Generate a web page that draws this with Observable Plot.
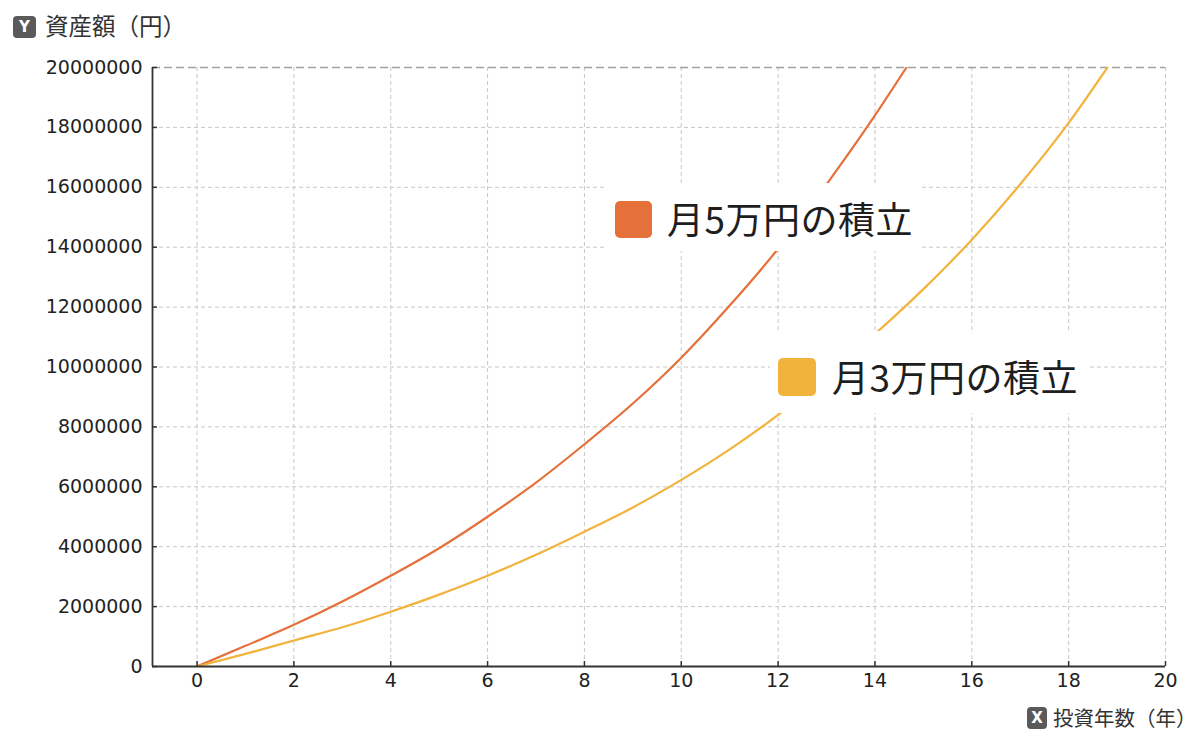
<!DOCTYPE html>
<html>
<head>
<meta charset="utf-8">
<script src="https://cdn.jsdelivr.net/npm/d3@7"></script>
<script src="https://cdn.jsdelivr.net/npm/@observablehq/plot@0.6"></script>
<style>
  body { margin: 0; background: #fff; }
  #wrap { position: relative; width: 1200px; height: 741px; overflow: hidden; background: #fff; }
  #wrap svg { position: absolute; left: 0; top: 0; }
  .badge { position: absolute; background: #5a5a5a; color: #fff; border-radius: 4px;
           font: bold 15px "DejaVu Sans", sans-serif; display: flex; align-items: center; justify-content: center; }
  .axt { position: absolute; color: #333; white-space: nowrap; line-height: 1;
         font-family: "Noto Sans CJK JP", sans-serif; }
  .lg { position: absolute; background: #fff; }
  .sw { position: absolute; border-radius: 5px; }
  .lt { position: absolute; font-family: "Noto Sans CJK JP", sans-serif; font-size: 37px; line-height: 1;
        color: #1e1e1e; white-space: nowrap; letter-spacing: 0.5px; }
</style>
</head>
<body>
<div id="wrap"></div>
<script>
// ---- data ----
const seriesNames = ["月5万円の積立", "月3万円の積立"];
const seriesColors = ["#E5703A", "#F2B33D"];

const years5  = [0, 1, 2, 3, 4, 5, 6, 7, 8, 9, 10, 11, 12, 13, 14, 14.65];
const values5 = [0, 690000, 1390000, 2170000, 3030000, 3950000, 5000000, 6140000, 7420000, 8780000,
                 10310000, 12050000, 13950000, 16100000, 18400000, 20000000];

const years3  = [0, 1, 2, 3, 4, 5, 6, 7, 8, 9, 10, 11, 12, 13, 14, 15, 16, 17, 18, 18.8];
const values3 = [0, 420000, 870000, 1310000, 1830000, 2400000, 3030000, 3730000, 4500000, 5310000,
                 6230000, 7250000, 8400000, 9700000, 11100000, 12600000, 14250000, 16100000, 18150000, 20000000];

const xTicks = [0, 2, 4, 6, 8, 10, 12, 14, 16, 18, 20];
const yTicks = [0, 2000000, 4000000, 6000000, 8000000, 10000000, 12000000, 14000000, 16000000, 18000000, 20000000];
const xDomain = [-0.92, 20];
const yDomain = [0, 20000000];

const yTitle = "資産額（円）";
const xTitle = "投資年数（年）";

// ---- table for the library ----
const rows = [
  ...years5.map((x, i) => ({series: seriesNames[0], year: x, value: values5[i]})),
  ...years3.map((x, i) => ({series: seriesNames[1], year: x, value: values3[i]}))
];

const W = 1200, H = 741, ML = 152, MR = 35, MT = 67, MB = 75, TICK = 5;
const grid = {stroke: "#c8c8c8", strokeOpacity: 1, strokeDasharray: "4,3", strokeWidth: 1};

const chart = Plot.plot({
  width: W,
  height: H,
  marginLeft: ML,
  marginRight: MR,
  marginTop: MT,
  marginBottom: MB,
  style: {fontFamily: "DejaVu Sans, sans-serif", fontSize: "19px", color: "#222", background: "transparent", overflow: "visible"},
  x: {domain: xDomain},
  y: {domain: yDomain},
  color: {domain: seriesNames, range: seriesColors},
  marks: [
    Plot.gridX(xTicks, grid),
    Plot.gridY(yTicks.slice(0, -1), grid),
    Plot.ruleY([yDomain[1]], {stroke: "#a0a0a0", strokeDasharray: "8,4", strokeWidth: 1.5}),
    Plot.line(rows, {x: "year", y: "value", z: "series", stroke: "series", curve: "monotone-x", strokeWidth: 2.2, clip: true}),
    // inward tick marks
    Plot.tickX(xTicks, {x: d => d, stroke: "#333", strokeWidth: 1.5, insetTop: H - MT - MB - TICK}),
    Plot.tickY(yTicks, {y: d => d, stroke: "#333", strokeWidth: 1.5, insetRight: W - ML - MR - TICK}),
    Plot.axisX(xTicks, {tickSize: 0, tickPadding: 7, tickFormat: d => String(d), label: null}),
    Plot.axisY(yTicks, {tickSize: 0, tickPadding: 10, tickFormat: d => String(d), label: null}),
    Plot.ruleX([xDomain[0]], {stroke: "#333", strokeWidth: 1.8}),
    Plot.ruleY([yDomain[0]], {stroke: "#333", strokeWidth: 1.8})
  ]
});

const wrap = document.getElementById("wrap");
wrap.appendChild(chart);

// ---- axis titles with badges ----
function addBadge(letter, left, top, w, h) {
  const b = document.createElement("div");
  b.className = "badge";
  Object.assign(b.style, {left: left + "px", top: top + "px", width: w + "px", height: h + "px"});
  b.textContent = letter;
  wrap.appendChild(b);
}
function addTitle(text, left, top, size) {
  const t = document.createElement("div");
  t.className = "axt";
  Object.assign(t.style, {left: left + "px", top: top + "px", fontSize: size + "px"});
  t.textContent = text;
  wrap.appendChild(t);
}
addBadge("Y", 13, 16, 23, 22);
addTitle(yTitle, 45, 14, 23.5);
addBadge("X", 1027, 707, 20, 22);
addTitle(xTitle, 1053, 707, 20.5);

// ---- in-chart legend labels ----
function addLegend(i, box, sw, textLeft, textTop) {
  const d = document.createElement("div");
  d.className = "lg";
  Object.assign(d.style, {left: box[0] + "px", top: box[1] + "px", width: box[2] + "px", height: box[3] + "px"});
  const s = document.createElement("div");
  s.className = "sw";
  Object.assign(s.style, {left: sw[0] + "px", top: sw[1] + "px", width: sw[2] + "px", height: sw[2] + "px", background: seriesColors[i]});
  const t = document.createElement("div");
  t.className = "lt";
  Object.assign(t.style, {left: textLeft + "px", top: textTop + "px"});
  t.textContent = seriesNames[i];
  d.appendChild(s);
  d.appendChild(t);
  wrap.appendChild(d);
}
addLegend(0, [605, 183, 315, 68], [10, 18, 37], 62, 17);
addLegend(1, [770, 331, 320, 82], [8, 27, 38], 62, 27);
</script>
</body>
</html>
